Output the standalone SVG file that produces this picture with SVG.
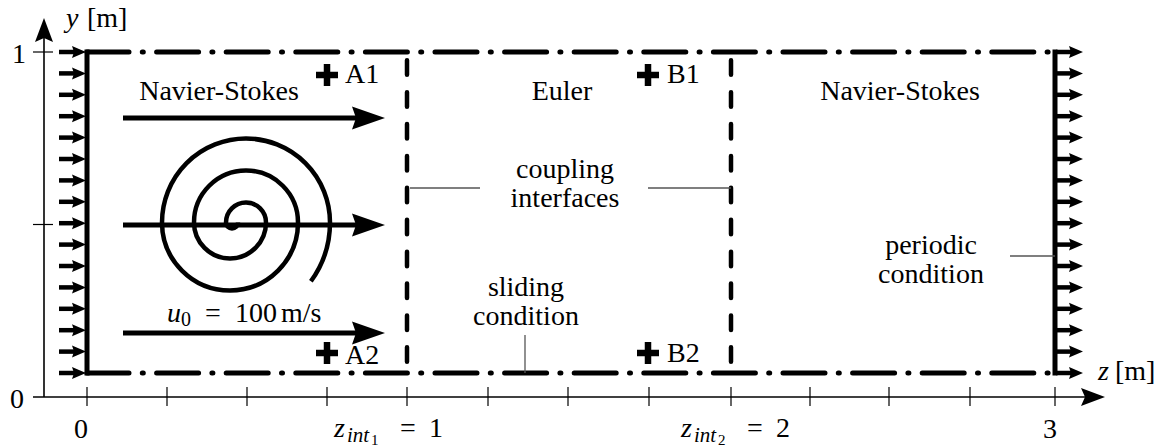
<svg xmlns="http://www.w3.org/2000/svg" width="1158" height="448" viewBox="0 0 1158 448">
<defs>
<style>
.t{font-family:'Liberation Serif','Times New Roman',Tinos,'Noto Serif','DejaVu Serif',FreeSerif,'Nimbus Roman',Times,serif;font-size:28px;fill:#000}
.m{text-anchor:middle}
.i{font-style:italic}
.ax{stroke:#000;stroke-width:1.6;fill:none}
.tick{stroke:#000;stroke-width:1.2}
.wall{stroke:#000;stroke-width:5;fill:none}
.dd{stroke:#000;stroke-width:5;fill:none;stroke-linecap:round;stroke-dasharray:42 13.3 1 13.3}
.dash{stroke:#000;stroke-width:4.5;fill:none;stroke-linecap:round;stroke-dasharray:14.5 17.4}
.lead{stroke:#555;stroke-width:1.3;fill:none}
.flow{stroke:#000;stroke-width:5;fill:none}
.probe{stroke:#000;stroke-width:6.5}
</style>
<g id="inarrow"><line x1="-27" y1="0" x2="-10" y2="0" stroke="#000" stroke-width="4.5"/><path d="M0 0 L-14 -6 L-12 0 L-14 6 Z" fill="#000"/></g>
<path id="bighead" d="M0 0 L-33 -11.5 L-29 0 L-33 11.5 Z" fill="#000"/>
<path id="axhead" d="M0 0 L-24 -9 L-20 0 L-24 9 Z" fill="#000"/>
<g id="plus" class="probe"><line x1="-11" y1="0" x2="11" y2="0"/><line x1="0" y1="-11" x2="0" y2="11"/></g>
</defs>
<rect width="1158" height="448" fill="#fff"/>

<g id="axes">
<line class="ax" x1="33" y1="397" x2="1086" y2="397"/>
<use href="#axhead" transform="translate(1105,397)"/>
<line class="ax" x1="44" y1="397" x2="44" y2="38"/>
<use href="#axhead" transform="translate(44,18) rotate(-90)"/>
<g class="tick">
<line x1="87" y1="387" x2="87" y2="406"/>
<line x1="167" y1="387" x2="167" y2="406"/>
<line x1="247" y1="387" x2="247" y2="406"/>
<line x1="327" y1="387" x2="327" y2="406"/>
<line x1="407" y1="387" x2="407" y2="406"/>
<line x1="488" y1="387" x2="488" y2="406"/>
<line x1="568" y1="387" x2="568" y2="406"/>
<line x1="649" y1="387" x2="649" y2="406"/>
<line x1="731" y1="387" x2="731" y2="406"/>
<line x1="810" y1="387" x2="810" y2="406"/>
<line x1="889" y1="387" x2="889" y2="406"/>
<line x1="970" y1="387" x2="970" y2="406"/>
<line x1="1055" y1="387" x2="1055" y2="406"/>
<line x1="33" y1="52" x2="53" y2="52"/>
<line x1="33" y1="224.5" x2="53" y2="224.5"/>
</g>
<text class="t" x="12" y="63">1</text>
<text class="t" x="10" y="408">0</text>
<text class="t" x="66" y="27"><tspan class="i">y</tspan><tspan x="87">[m]</tspan></text>
<text class="t" x="1098" y="380"><tspan class="i">z</tspan><tspan x="1115">[m]</tspan></text>
<text class="t m" x="81" y="438">0</text>
<text class="t m" x="1050" y="438">3</text>
<text class="t" y="437"><tspan class="i" x="334">z</tspan><tspan class="i" x="347" dy="5" style="font-size:21px">int</tspan><tspan x="371" dy="3" style="font-size:15px">1</tspan><tspan x="400" dy="-8">=</tspan><tspan x="429">1</tspan></text>
<text class="t" y="437"><tspan class="i" x="681">z</tspan><tspan class="i" x="694" dy="5" style="font-size:21px">int</tspan><tspan x="718" dy="3" style="font-size:15px">2</tspan><tspan x="747" dy="-8">=</tspan><tspan x="776">2</tspan></text>
</g>

<g id="domain">
<line class="wall" x1="87" y1="49.5" x2="87" y2="375.5"/>
<line class="wall" x1="1055" y1="49.5" x2="1055" y2="375.5"/>
<path class="dd" d="M87 52 H1055"/>
<path class="dd" d="M87 373 H1055"/>
</g>

<g id="interfaces">
<path class="dash" d="M407 60.25 V363"/>
<path class="dash" d="M731 60.25 V363"/>
</g>

<g id="inflow">
<use href="#inarrow" transform="translate(86,52)"/>
<use href="#inarrow" transform="translate(86,73.4)"/>
<use href="#inarrow" transform="translate(86,94.8)"/>
<use href="#inarrow" transform="translate(86,116.2)"/>
<use href="#inarrow" transform="translate(86,137.6)"/>
<use href="#inarrow" transform="translate(86,159)"/>
<use href="#inarrow" transform="translate(86,180.4)"/>
<use href="#inarrow" transform="translate(86,201.8)"/>
<use href="#inarrow" transform="translate(86,223.2)"/>
<use href="#inarrow" transform="translate(86,244.6)"/>
<use href="#inarrow" transform="translate(86,266)"/>
<use href="#inarrow" transform="translate(86,287.4)"/>
<use href="#inarrow" transform="translate(86,308.8)"/>
<use href="#inarrow" transform="translate(86,330.2)"/>
<use href="#inarrow" transform="translate(86,351.6)"/>
<use href="#inarrow" transform="translate(86,373)"/>
</g>

<g id="outflow">
<use href="#inarrow" transform="translate(1083,52)"/>
<use href="#inarrow" transform="translate(1083,73.4)"/>
<use href="#inarrow" transform="translate(1083,94.8)"/>
<use href="#inarrow" transform="translate(1083,116.2)"/>
<use href="#inarrow" transform="translate(1083,137.6)"/>
<use href="#inarrow" transform="translate(1083,159)"/>
<use href="#inarrow" transform="translate(1083,180.4)"/>
<use href="#inarrow" transform="translate(1083,201.8)"/>
<use href="#inarrow" transform="translate(1083,223.2)"/>
<use href="#inarrow" transform="translate(1083,244.6)"/>
<use href="#inarrow" transform="translate(1083,266)"/>
<use href="#inarrow" transform="translate(1083,287.4)"/>
<use href="#inarrow" transform="translate(1083,308.8)"/>
<use href="#inarrow" transform="translate(1083,330.2)"/>
<use href="#inarrow" transform="translate(1083,351.6)"/>
<use href="#inarrow" transform="translate(1083,373)"/>
</g>

<g id="flow">
<line class="flow" x1="123" y1="118" x2="358" y2="118"/>
<use href="#bighead" transform="translate(385,118)"/>
<line class="flow" x1="123" y1="225" x2="358" y2="225"/>
<use href="#bighead" transform="translate(385,225)"/>
<line class="flow" x1="123" y1="333" x2="358" y2="333"/>
<use href="#bighead" transform="translate(385,333)"/>
</g>

<g id="vortex">
<path d="M238 222.5 A6 6 0 0 1 226 222.5 A20 20 0 0 1 266 222.5 A36 36 0 0 1 194 222.5 A52 52 0 0 1 298 222.5 A68 68 0 0 1 162 222.5 A84 84 0 0 1 330 222.5 A100 100 0 0 1 310.9 281.3" fill="none" stroke="#000" stroke-width="4.5"/>
</g>

<g id="probes">
<use href="#plus" transform="translate(327,75)"/>
<use href="#plus" transform="translate(648,75)"/>
<use href="#plus" transform="translate(327,353)"/>
<use href="#plus" transform="translate(648,353)"/>
<text class="t" x="345" y="83">A1</text>
<text class="t" x="667" y="83">B1</text>
<text class="t" x="345" y="364">A2</text>
<text class="t" x="667" y="362">B2</text>
</g>

<g id="leaders">
<path class="lead" d="M410 188 H480"/>
<path class="lead" d="M648 188 H731"/>
<path class="lead" d="M525 335 V373"/>
<path class="lead" d="M1010 256 H1055"/>
</g>

<g id="labels">
<text class="t m" x="219" y="100">Navier-Stokes</text>
<text class="t m" x="562" y="100">Euler</text>
<text class="t m" x="900" y="100">Navier-Stokes</text>
<text class="t m" x="565" y="178">coupling</text>
<text class="t m" x="565" y="207">interfaces</text>
<text class="t m" x="526" y="296">sliding</text>
<text class="t m" x="526" y="325">condition</text>
<text class="t m" x="931" y="254">periodic</text>
<text class="t m" x="931" y="283">condition</text>
<text class="t" y="322"><tspan class="i" x="167">u</tspan><tspan x="181" dy="4" style="font-size:20px">0</tspan><tspan x="205" dy="-4">=</tspan><tspan x="235">100</tspan><tspan x="281">m/s</tspan></text>
</g>
</svg>
